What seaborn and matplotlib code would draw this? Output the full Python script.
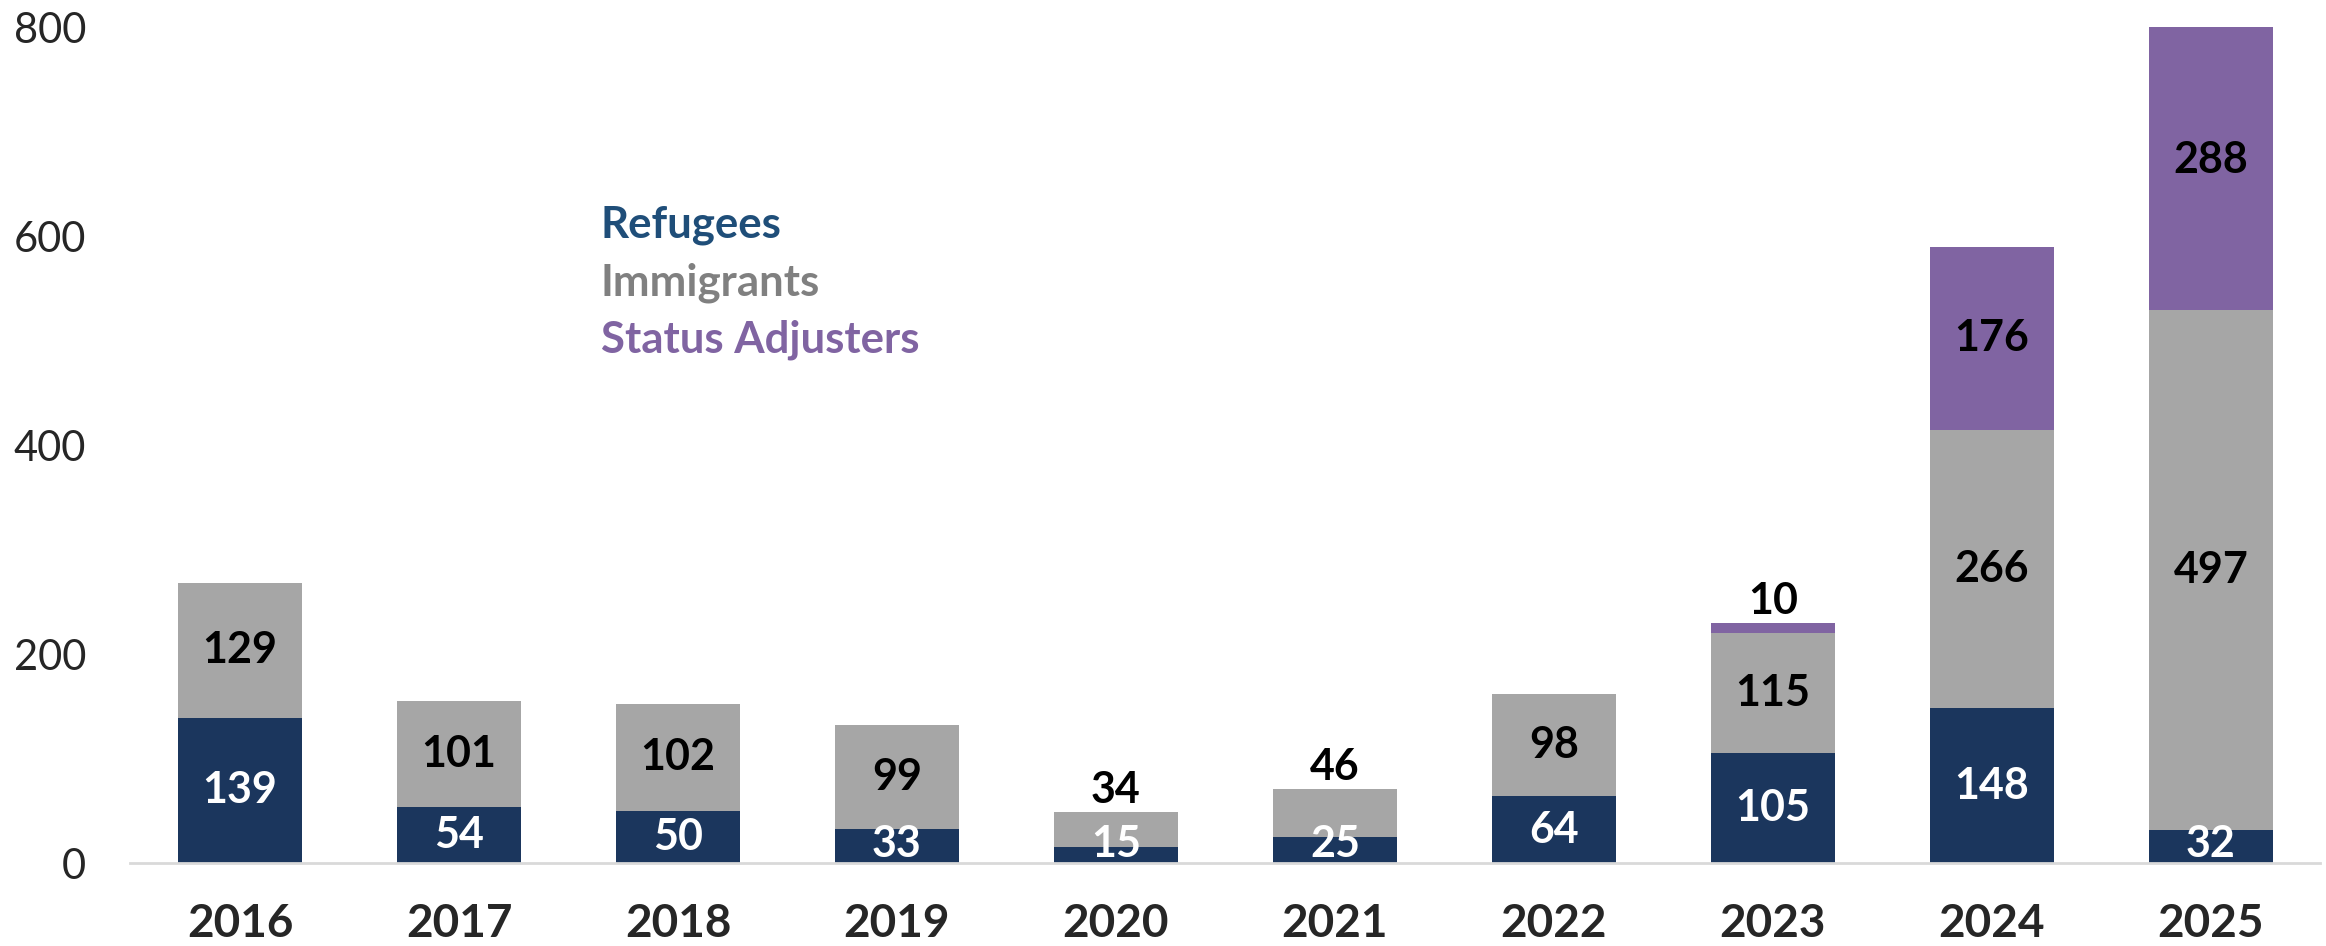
import numpy as np
import pandas as pd
import matplotlib
matplotlib.use("Agg")
import matplotlib.pyplot as plt
import seaborn as sns

# ---- data ----
years = ["2016", "2017", "2018", "2019", "2020", "2021", "2022", "2023", "2024", "2025"]
refugees = [139, 54, 50, 33, 15, 25, 64, 105, 148, 32]
immigrants = [129, 101, 102, 99, 34, 46, 98, 115, 266, 497]
status_adjusters = [0, 0, 0, 0, 0, 0, 0, 10, 176, 288]

series_names = ["Refugees", "Immigrants", "Status Adjusters"]
bar_colors = ["#1B365D", "#A6A6A6", "#8064A2"]
text_colors = ["#1F4E79", "#808080", "#8064A2"]
label_colors = ["white", "black", "black"]

# ---- style ----
sns.set_style("white")
plt.rcParams["font.family"] = ["Lato", "DejaVu Sans"]

df = pd.DataFrame({"year": years, "Refugees": refugees,
                   "Immigrants": immigrants, "Status Adjusters": status_adjusters})
layers = np.vstack([refugees, immigrants, status_adjusters])
tops = layers.cumsum(axis=0)
bottoms = tops - layers

fig = plt.figure(figsize=(23.26, 9.46), dpi=100)
ax = fig.add_axes([0.0561, 0.0877, 0.9415, 0.8837])

# stacked bars: draw cumulative totals from the top layer down
for i in [2, 1, 0]:
    sns.barplot(x=df["year"], y=tops[i], color=bar_colors[i], saturation=1,
                width=0.57, errorbar=None, linewidth=0, ax=ax)

# value labels
for i in range(3):
    for j in range(len(years)):
        v = layers[i, j]
        if v == 0:
            continue
        if i > 0 and v < 50:
            # small upper segments get their label above the bar
            ax.annotate(str(v), (j, tops[i, j]), xytext=(0, 1.5), textcoords="offset points",
                        ha="center", va="bottom", fontsize=31, fontweight="bold",
                        color="black")
        else:
            y = max((bottoms[i, j] + tops[i, j]) / 2, 18)
            ax.text(j, y, str(v), ha="center", va="center", fontsize=31,
                    fontweight="bold", color=label_colors[i])

# legend as coloured text
for name, c, yy in zip(series_names, text_colors, [0.7488, 0.6794, 0.6112]):
    ax.text(0.2148, yy, name, transform=ax.transAxes, ha="left", va="baseline",
            fontsize=31.5, fontweight="bold", color=c)

ax.set_xlim(-0.5, 9.5)
ax.set_ylim(0, 800)
ax.set_yticks([0, 200, 400, 600, 800])
ax.set_xlabel("")
ax.set_ylabel("")
ax.tick_params(axis="both", length=0)
ax.tick_params(axis="y", labelsize=30, pad=32)
ax.tick_params(axis="x", labelsize=33, pad=29)
for lab in ax.get_xticklabels():
    lab.set_fontweight("bold")

for s in ["top", "right", "left"]:
    ax.spines[s].set_visible(False)
ax.spines["bottom"].set_color("#D9D9D9")
ax.spines["bottom"].set_linewidth(2)

fig.savefig("out.png", dpi=100)
